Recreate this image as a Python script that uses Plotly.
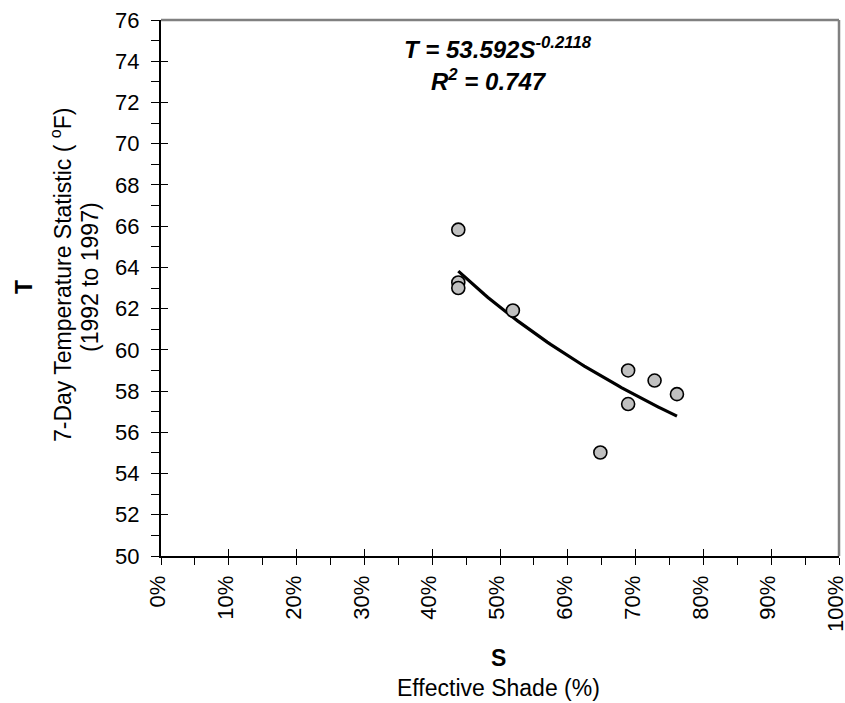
import numpy as np
import plotly.graph_objects as go

# ---- data ----
shade = [0.4385, 0.4385, 0.4385, 0.519, 0.648, 0.689, 0.689, 0.728, 0.761]
temp = [65.83, 63.27, 63.00, 61.91, 55.02, 59.00, 57.37, 58.51, 57.85]

# power trend reported on the chart: T = a * S^b
coef_a = 53.592
coef_b = -0.2118
r_squared = 0.747

x_tickvals = [0.0, 0.1, 0.2, 0.3, 0.4, 0.5, 0.6, 0.7, 0.8, 0.9, 1.0]
x_ticktext = ["0%", "10%", "20%", "30%", "40%", "50%", "60%", "70%", "80%", "90%", "100%"]
y_tickvals = [50, 52, 54, 56, 58, 60, 62, 64, 66, 68, 70, 72, 74, 76]
y_ticktext = [str(v) for v in y_tickvals]

FONT = "Liberation Sans, Arial, sans-serif"

trend_x = np.linspace(min(shade), max(shade), 60)
trend_y = coef_a * trend_x ** coef_b

fig = go.Figure()
fig.add_trace(go.Scatter(x=trend_x, y=trend_y, mode="lines",
                         line=dict(color="black", width=3.2), hoverinfo="skip",
                         showlegend=False))
fig.add_trace(go.Scatter(x=shade, y=temp, mode="markers",
                         marker=dict(size=13, color="#C0C0C0",
                                     line=dict(color="black", width=1.6)),
                         showlegend=False))
# invisible trace to create overlay axes (inside half of crossing ticks)
fig.add_trace(go.Scatter(x=[None], y=[None], xaxis="x2", yaxis="y2",
                         showlegend=False, hoverinfo="skip"))

PL, PT, PR, PB = 161, 20, 839, 556          # plot area in page pixels
W, H = 845, 703
L, T = PL, PT
R = W - PR
B = H - PB
pw, ph = PR - PL, PB - PT


def px_x(p):
    return (p - PL) / pw


def px_y(p):
    return (PB - p) / ph


fig.update_layout(
    template="none",
    width=W, height=H,
    margin=dict(l=L, r=R, t=T, b=B, pad=0, autoexpand=False),
    paper_bgcolor="white", plot_bgcolor="white",
    font=dict(family=FONT, size=22, color="black"),
    xaxis=dict(range=[0, 1], tickvals=x_tickvals, ticktext=x_ticktext,
               tickangle=-90, ticks="outside", ticklen=7, tickwidth=1.3,
               tickcolor="black", showline=True, linecolor="black", linewidth=2,
               showgrid=False, zeroline=False, ticklabelstandoff=2,
               ticklabelshift=-3,
               ticklabeloverflow="allow", automargin=False,
               minor=dict(dtick=0.05, ticks="outside", ticklen=7,
                          tickwidth=1.3, tickcolor="black", showgrid=False),
               tickfont=dict(size=22)),
    yaxis=dict(range=[50, 76], tickvals=y_tickvals, ticktext=y_ticktext,
               ticks="outside", ticklen=8, tickwidth=1.3, tickcolor="black",
               showline=True, linecolor="black", linewidth=2,
               showgrid=False, zeroline=False, ticklabelstandoff=7,
               ticklabeloverflow="allow", automargin=False,
               minor=dict(dtick=1, ticks="outside", ticklen=8,
                          tickwidth=1.3, tickcolor="black", showgrid=False),
               tickfont=dict(size=22)),
    xaxis2=dict(range=[0, 1], overlaying="x", anchor="y2", side="bottom",
                tickvals=x_tickvals, ticks="inside", ticklen=7, tickwidth=1.3,
                tickcolor="black", showticklabels=False, showline=False,
                showgrid=False, zeroline=False, automargin=False),
    yaxis2=dict(range=[50, 76], overlaying="y", anchor="x2", side="left",
                tickvals=y_tickvals, ticks="inside", ticklen=7, tickwidth=1.3,
                tickcolor="black", showticklabels=False, showline=False,
                showgrid=False, zeroline=False, automargin=False),
    shapes=[
        dict(type="line", xref="paper", yref="paper", x0=0, x1=1, y0=1, y1=1,
             line=dict(color="#808080", width=2.5), layer="below"),
        dict(type="line", xref="paper", yref="paper", x0=1, x1=1, y0=0, y1=1,
             line=dict(color="#808080", width=2.5), layer="below"),
    ],
)

ann = []
# equation
ann.append(dict(xref="paper", yref="paper", x=px_x(498), y=px_y(48),
                text=f"<b><i>T = {coef_a}S<sup>{coef_b}</sup></i></b>",
                showarrow=False, font=dict(size=24, family=FONT),
                xanchor="center", yanchor="middle"))
ann.append(dict(xref="paper", yref="paper", x=px_x(489), y=px_y(80),
                text=f"<b><i>R<sup>2</sup> = {r_squared}</i></b>",
                showarrow=False, font=dict(size=24, family=FONT),
                xanchor="center", yanchor="middle"))
# y title
ann.append(dict(xref="paper", yref="paper", x=px_x(24), y=px_y(287),
                text="<b>T</b>", textangle=-90, showarrow=False,
                font=dict(size=23, family=FONT), xanchor="center", yanchor="middle"))
ann.append(dict(xref="paper", yref="paper", x=px_x(61), y=px_y(275),
                text="7-Day Temperature Statistic ( <sup>o</sup>F)", textangle=-90,
                showarrow=False, font=dict(size=23, family=FONT),
                xanchor="center", yanchor="middle"))
ann.append(dict(xref="paper", yref="paper", x=px_x(90), y=px_y(277),
                text="(1992 to 1997)", textangle=-90, showarrow=False,
                font=dict(size=23, family=FONT), xanchor="center", yanchor="middle"))
# x title
ann.append(dict(xref="paper", yref="paper", x=px_x(498), y=px_y(658),
                text="<b>S</b>", showarrow=False,
                font=dict(size=23, family=FONT), xanchor="center", yanchor="middle"))
ann.append(dict(xref="paper", yref="paper", x=px_x(498), y=px_y(688),
                text="Effective Shade (%)", showarrow=False,
                font=dict(size=23, family=FONT), xanchor="center", yanchor="middle"))
fig.update_layout(annotations=ann)

fig.write_html(
    "out.html",
    config={"displayModeBar": False},
    post_script=("document.documentElement.style.margin='0';"
                 "document.body.style.margin='0';"
                 "document.documentElement.style.overflow='hidden';"
                 "document.body.style.overflow='hidden';"),
)
